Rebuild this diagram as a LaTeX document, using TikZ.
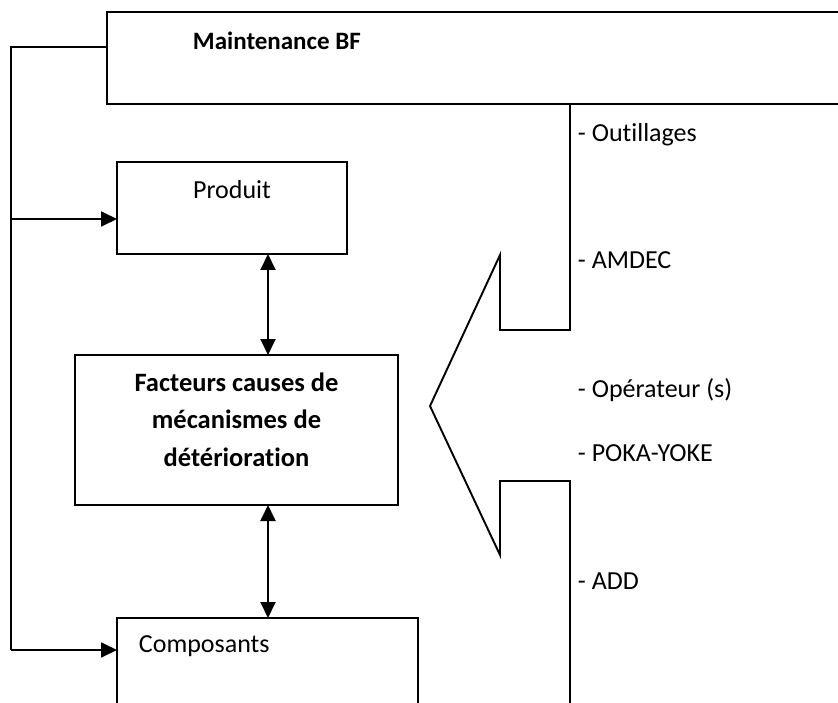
\documentclass[tikz,border=0pt]{standalone}
\usepackage{fontspec}
\setmainfont{Carlito}[Ligatures=NoCommon]
\usetikzlibrary{arrows.meta}
\begin{document}
\begin{tikzpicture}[x=1pt,y=-1pt,line width=1.9pt,
  box/.style={draw,rectangle,inner sep=0pt,outer sep=0pt,anchor=north west},
  txt/.style={inner sep=0pt,font=\fontsize{26}{30}\selectfont},
  tip/.style={-{Triangle[length=16pt,width=15pt]}},
  dtip/.style={{Triangle[length=16pt,width=15pt]}-{Triangle[length=16pt,width=15pt]}}]
\useasboundingbox (0,0) rectangle (838,703);
\clip (0,0) rectangle (838,703);
% boxes
\node[box,minimum width=793pt,minimum height=92pt] (mbf) at (107,12) {};
\node[box,minimum width=230pt,minimum height=92pt] (prod) at (117,162) {};
\node[box,minimum width=323pt,minimum height=150pt] (fact) at (75,355) {};
\node[box,minimum width=301pt,minimum height=150pt] (comp) at (117,618) {};
% texts
\node[txt,anchor=base west,font=\fontsize{25}{30}\selectfont\bfseries] (tmbf) at (192,50) {Maintenance BF};
\node[txt,anchor=base] (tprod) at (232,199) {Produit};
\node[txt,anchor=base west] (tcomp) at (138,652) {Composants};
\node[txt,anchor=base,align=center,font=\fontsize{26.5}{37.5}\selectfont\bfseries] (tfact) at (236.5,466)
  {Facteurs causes de\\mécanismes de\\détérioration};
\node[txt,anchor=base west] (l1) at (577,142) {- Outillages};
\node[txt,anchor=base west] (l2) at (577,269) {- AMDEC};
\node[txt,anchor=base west] (l3) at (577,397) {- Opérateur (s)};
\node[txt,anchor=base west] (l4) at (577,461) {- POKA-YOKE};
\node[txt,anchor=base west] (l5) at (577,589) {- ADD};
% bus on the left
\coordinate (bus) at (11,47);
\coordinate (busP) at (11,219);
\coordinate (busC) at (11,650);
\coordinate (xcol) at (268,0);
\draw (mbf.west |- bus) -- (bus) -- (busC);
\draw[tip] (busP) -- (prod.west |- busP);
\draw[tip] (busC) -- (comp.west |- busC);
% vertical double arrows
\draw[dtip] (prod.south -| xcol) -- (fact.north -| xcol);
\draw[dtip] (fact.south -| xcol) -- (comp.north -| xcol);
% big open arrow
\draw[line join=miter] (570,104) -- (570,330) -- (500,330) -- (500,255) -- (430,406)
  -- (500,555) -- (500,481) -- (570,481) -- (570,720);
\end{tikzpicture}
\end{document}
